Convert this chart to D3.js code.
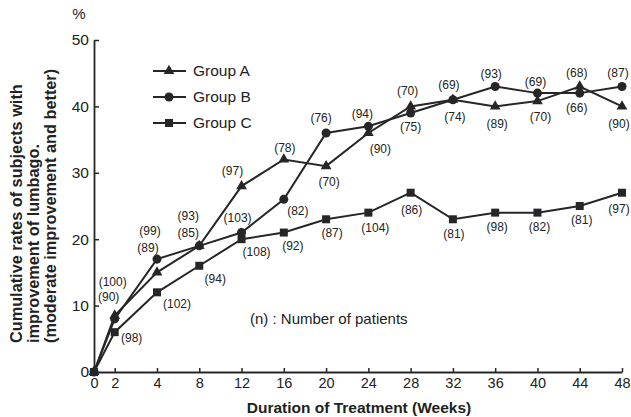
<!DOCTYPE html>
<html>
<head>
<meta charset="utf-8">
<script src="https://cdn.jsdelivr.net/npm/d3@7"></script>
<style>
  body { margin: 0; background: #fff; }
  svg { display: block; font-family: "Liberation Sans", Arial, Helvetica, sans-serif; }
</style>
</head>
<body>
<div id="chart"></div>
<script>
"use strict";

// weeks of treatment
var weeks = [0, 2, 4, 8, 12, 16, 20, 24, 28, 32, 36, 40, 44, 48];

// cumulative improvement rates (%)
var groupA = [0, 8.5, 15, 19, 28, 32, 31, 36, 40, 41, 40, 40.8, 43, 40];
var groupB = [0, 8, 17, 19, 21, 26, 36, 37, 39, 41, 43, 42, 42, 43];
var groupC = [0, 6, 12, 16, 20, 21, 23, 24, 27, 23, 24, 24, 25, 27];

// number of patients at each point
var nA = [null, 100, 89, 93, 97, 78, 70, 90, 70, 74, 89, 70, 68, 90];
var nB = [null, 90, 99, 85, 103, 82, 76, 94, 75, 69, 93, 69, 66, 87];
var nC = [null, 98, 102, 94, 108, 92, 87, 104, 86, 81, 98, 82, 81, 97];

var yTicks = [0, 10, 20, 30, 40, 50];
var seriesNames = ["Group A", "Group B", "Group C"];

// label placement relative to each point [dx, dy]
var offA = [null, [-2, -34], [-9, -25], [-11, -30], [-9, -15], [1, -12], [3, 16], [12, 16], [-3, -16], [2, 17], [2, 17], [3, 16], [-3, -14], [-3, 17]];
var offB = [null, [-6, -22], [-7, -28], [-11, -13], [-4, -15], [14, 11], [-5, -15], [-6, -13], [0, 14], [-4, -15], [-4, -13], [-2, -11], [-3, 15], [-4, -14]];
var offC = [null, [17, 6], [20, 11], [16, 13], [15, 13], [9, 13], [6, 14], [7, 15], [1, 17], [1, 15], [2, 14], [2, 14], [2, 14], [-3, 16]];

var width = 631, height = 417;
var ink = "#262626";

var svg = d3.select("#chart").append("svg")
    .attr("width", width)
    .attr("height", height);

// x is spaced by point, week 0 sits half a step before week 2
var x = d3.scaleLinear()
    .domain([0, 2, 4, 48])
    .range([94, 114.7, 157, 622]);

var y = d3.scaleLinear()
    .domain([0, 50])
    .range([372, 40]);

//axes
var xAxis = svg.append("g")
    .attr("transform", "translate(0," + y(0) + ")")
    .call(d3.axisBottom(x).tickValues(weeks).tickFormat(d3.format("d"))
        .tickSizeInner(-4).tickSizeOuter(0).tickPadding(6));

var yAxis = svg.append("g")
    .attr("transform", "translate(" + x(0) + ",0)")
    .call(d3.axisLeft(y).tickValues(yTicks)
        .tickSizeInner(-5).tickSizeOuter(0).tickPadding(6));

[xAxis, yAxis].forEach(function(ax){
    ax.select(".domain").attr("stroke", ink).attr("stroke-width", 1.8);
    ax.selectAll(".tick line").attr("stroke", ink).attr("stroke-width", 1.5);
    ax.selectAll(".tick text").attr("fill", "#222").attr("font-family", null);
});
xAxis.selectAll(".tick text").attr("font-size", 14.5);
yAxis.selectAll(".tick text").attr("font-size", 15.5).attr("x", -5);

//titles
svg.append("text")
    .attr("x", 79).attr("y", 19)
    .attr("text-anchor", "middle")
    .attr("font-size", 15)
    .attr("fill", "#222")
    .text("%");

svg.append("text")
    .attr("x", 359).attr("y", 413)
    .attr("text-anchor", "middle")
    .attr("font-size", 15.5)
    .attr("font-weight", "bold")
    .attr("fill", "#222")
    .text("Duration of Treatment (Weeks)");

var yTitle = svg.append("g")
    .attr("transform", "rotate(-90)")
    .attr("font-size", 16.3)
    .attr("font-weight", "bold")
    .attr("fill", "#222");
yTitle.append("text").attr("x", -343).attr("y", 22).text("Cumulative rates of subjects with");
yTitle.append("text").attr("x", -343).attr("y", 39).text("improvement of lumbago.");
yTitle.append("text").attr("x", -343).attr("y", 56).text("(moderate improvement and better)");

svg.append("text")
    .attr("x", 250).attr("y", 324)
    .attr("font-size", 15)
    .attr("fill", "#222")
    .text("(n) : Number of patients");

//series
var series = [
    { name: seriesNames[0], values: groupA, n: nA, off: offA, symbol: d3.symbolTriangle, size: 50 },
    { name: seriesNames[1], values: groupB, n: nB, off: offB, symbol: d3.symbolCircle, size: 64 },
    { name: seriesNames[2], values: groupC, n: nC, off: offC, symbol: d3.symbolSquare, size: 64 }
];

var line = d3.line()
    .x(function(d, i){ return x(weeks[i]); })
    .y(function(d){ return y(d); });

var plot = svg.append("g");

series.forEach(function(s){
    plot.append("path")
        .attr("d", line(s.values))
        .attr("fill", "none")
        .attr("stroke", ink)
        .attr("stroke-width", 2);
});

series.forEach(function(s){
    plot.append("g").selectAll("path")
        .data(s.values)
        .enter()
        .append("path")
        .attr("transform", function(d, i){ return "translate(" + x(weeks[i]) + "," + y(d) + ")"; })
        .attr("d", d3.symbol().type(s.symbol).size(s.size))
        .attr("fill", ink);

    //one label per point that has a patient count
    var labels = s.values.map(function(v, i){
        return { week: weeks[i], value: v, n: s.n[i], off: s.off[i] };
    }).filter(function(d){ return d.n != null; });

    plot.append("g").selectAll("text")
        .data(labels)
        .enter()
        .append("text")
        .attr("x", function(d){ return x(d.week) + d.off[0]; })
        .attr("y", function(d){ return y(d.value) + d.off[1]; })
        .attr("dy", "0.35em")
        .attr("text-anchor", "middle")
        .attr("font-size", 12)
        .attr("fill", "#222")
        .text(function(d){ return "(" + d.n + ")"; });
});

//legend
var legend = svg.append("g").selectAll("g")
    .data(series)
    .enter()
    .append("g")
    .attr("transform", function(d, i){ return "translate(153," + (71 + i * 26) + ")"; });

legend.append("line")
    .attr("x1", 0).attr("x2", 33)
    .attr("stroke", ink).attr("stroke-width", 2);
legend.append("path")
    .attr("transform", "translate(16,0)")
    .attr("d", function(d){ return d3.symbol().type(d.symbol).size(d.size)(); })
    .attr("fill", ink);
legend.append("text")
    .attr("x", 40).attr("dy", "0.35em")
    .attr("font-size", 15.5)
    .attr("fill", "#222")
    .text(function(d){ return d.name; });
</script>
</body>
</html>
